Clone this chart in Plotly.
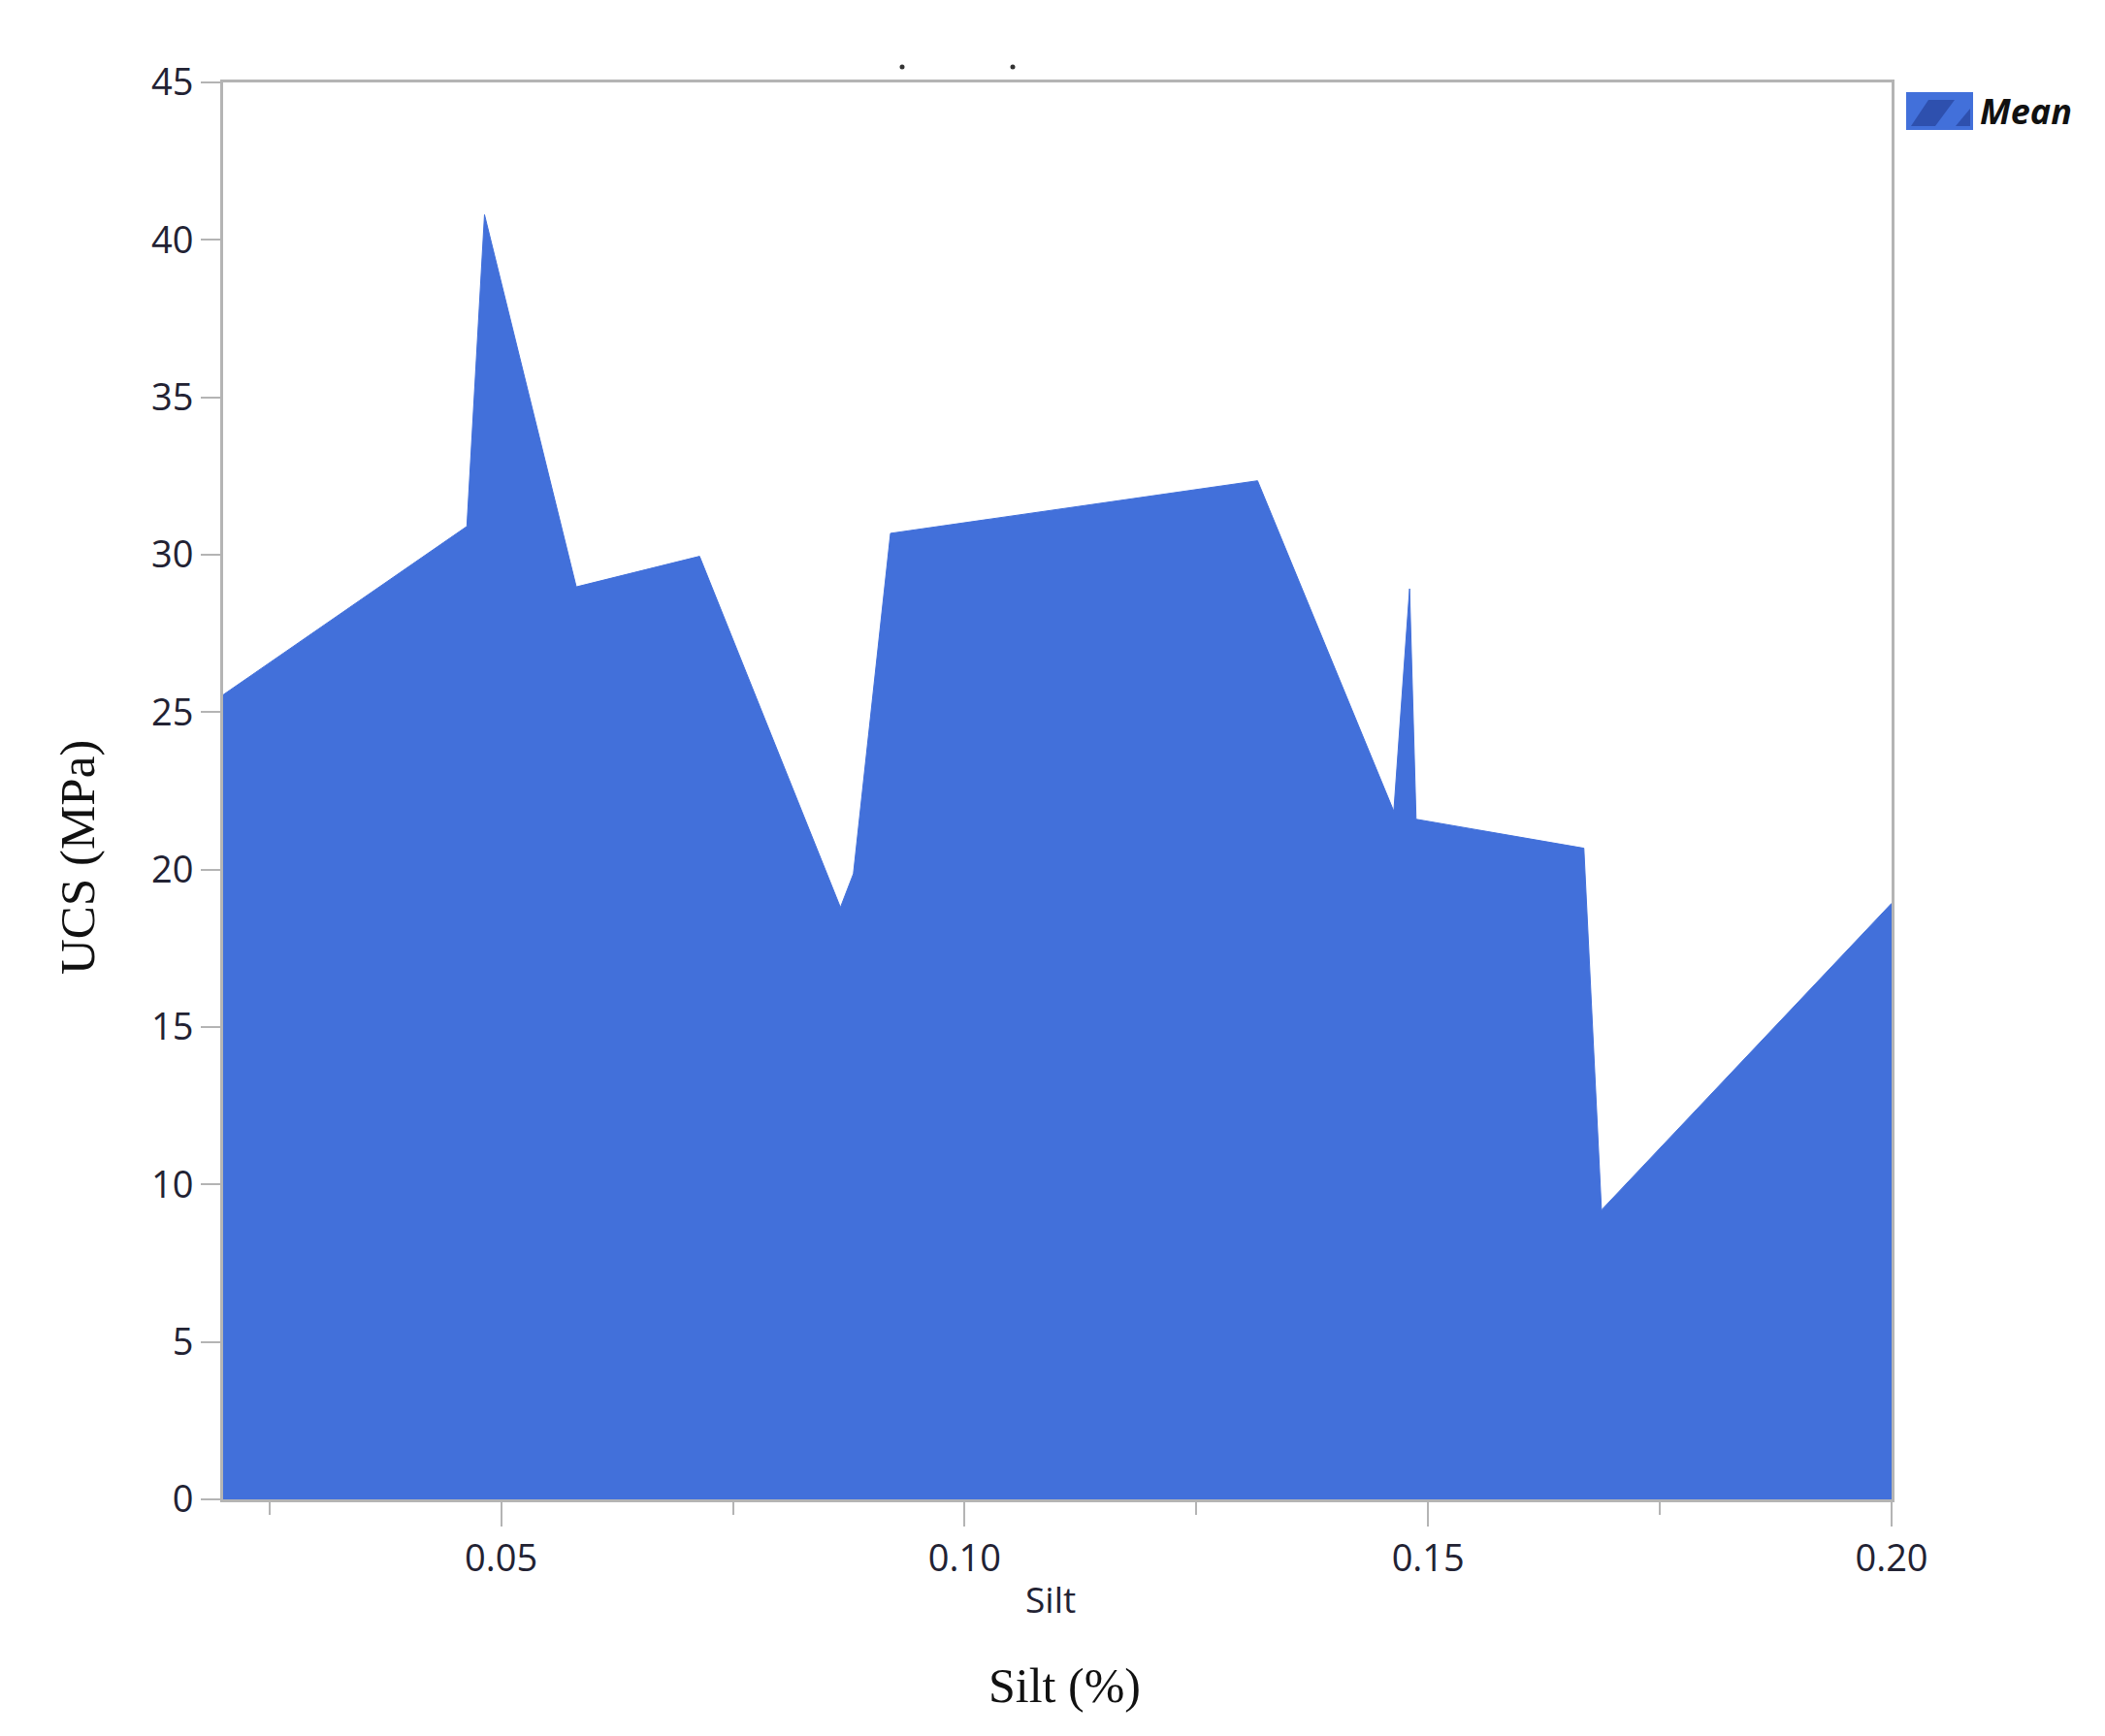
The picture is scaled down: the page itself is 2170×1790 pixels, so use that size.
import plotly.graph_objects as go

# Data
silt = [0.020, 0.0463, 0.0482, 0.0581, 0.0714, 0.0866, 0.0880, 0.0920,
        0.1316, 0.1463, 0.1480, 0.1487, 0.1668, 0.1687, 0.200]
ucs = [25.55, 30.9, 40.8, 28.98, 29.95, 18.8, 19.87, 30.68,
       32.35, 21.85, 28.92, 21.6, 20.68, 9.19, 18.93]
series_name = "Mean"
x_ticks = [0.05, 0.10, 0.15, 0.20]
x_tick_text = ["0.05", "0.10", "0.15", "0.20"]
y_ticks = [0, 5, 10, 15, 20, 25, 30, 35, 40, 45]

W, H = 2170, 1790
L, R, T, B = 222, 1942, 77, 1538  # plot area in pixels

def px(x):
    return (x - L) / (R - L)

def py(y):
    return (B - y) / (B - T)

FILL = "#4270DA"
AXIS = "#B4B4B4"
TICKFONT = dict(family="Open Sans", size=38, color="#222233")

fig = go.Figure()
fig.add_trace(go.Scatter(
    x=silt, y=ucs, name=series_name, mode="lines",
    fill="tozeroy", fillcolor=FILL,
    line=dict(color=FILL, width=1),
    showlegend=False, hoverinfo="x+y",
))

# Legend drawn manually (swatch with darker diagonal stripes)
shapes = [
    dict(type="rect", xref="paper", yref="paper",
         x0=px(1957), x1=px(2026), y0=py(126), y1=py(87),
         fillcolor=FILL, line=dict(width=0)),
    dict(type="path", xref="paper", yref="paper",
         path=(f"M {px(1962)},{py(122)} L {px(1987)},{py(122)} "
               f"L {px(2007)},{py(95)} L {px(1980)},{py(95)} Z"),
         fillcolor="#2E50AE", line=dict(width=0)),
    dict(type="path", xref="paper", yref="paper",
         path=(f"M {px(2008)},{py(122)} L {px(2023)},{py(122)} "
               f"L {px(2023)},{py(104)} Z"),
         fillcolor="#2E50AE", line=dict(width=0)),
]
# two small residual dots above the frame
for cx in (922, 1036):
    shapes.append(dict(type="circle", xref="paper", yref="paper",
                       x0=px(cx - 2.5), x1=px(cx + 2.5),
                       y0=py(63.5), y1=py(58.5),
                       fillcolor="#333333", line=dict(width=0)))

annotations = [
    dict(text="<b><i>Mean</i></b>", xref="paper", yref="paper",
         x=px(2031), y=py(107), xanchor="left", yanchor="middle",
         showarrow=False, font=dict(family="Open Sans", size=36, color="#111111")),
    dict(text="UCS (MPa)", xref="paper", yref="paper",
         x=px(72), y=py(876), xanchor="center", yanchor="middle",
         textangle=-90, showarrow=False,
         font=dict(family="Liberation Serif", size=51, color="#111111")),
    dict(text="Silt", xref="paper", yref="paper",
         x=px(1075), y=py(1640), xanchor="center", yanchor="middle",
         showarrow=False, font=dict(family="Open Sans", size=37, color="#222233")),
    dict(text="Silt (%)", xref="paper", yref="paper",
         x=px(1089), y=py(1730), xanchor="center", yanchor="middle",
         showarrow=False, font=dict(family="Liberation Serif", size=50, color="#111111")),
]

fig.update_layout(
    width=W, height=H,
    margin=dict(l=L, r=W - R, t=T, b=H - B, pad=0),
    paper_bgcolor="white", plot_bgcolor="white",
    shapes=shapes, annotations=annotations,
    showlegend=False,
)
fig.update_xaxes(
    range=[0.02, 0.20], tickvals=x_ticks, ticktext=x_tick_text,
    showgrid=False, zeroline=False,
    showline=True, linecolor=AXIS, linewidth=3, mirror=True,
    ticks="outside", ticklen=25, tickwidth=2, tickcolor=AXIS,
    minor=dict(dtick=0.025, tick0=0.0, ticks="outside", ticklen=13,
               tickwidth=2, tickcolor=AXIS, showgrid=False),
    tickfont=TICKFONT,
)
fig.update_yaxes(
    range=[0, 45], tickvals=y_ticks,
    showgrid=False, zeroline=False,
    showline=True, linecolor=AXIS, linewidth=3, mirror=True,
    ticks="outside", ticklen=20, tickwidth=2, tickcolor=AXIS,
    tickfont=TICKFONT,
)

fig.write_html("out.html")
